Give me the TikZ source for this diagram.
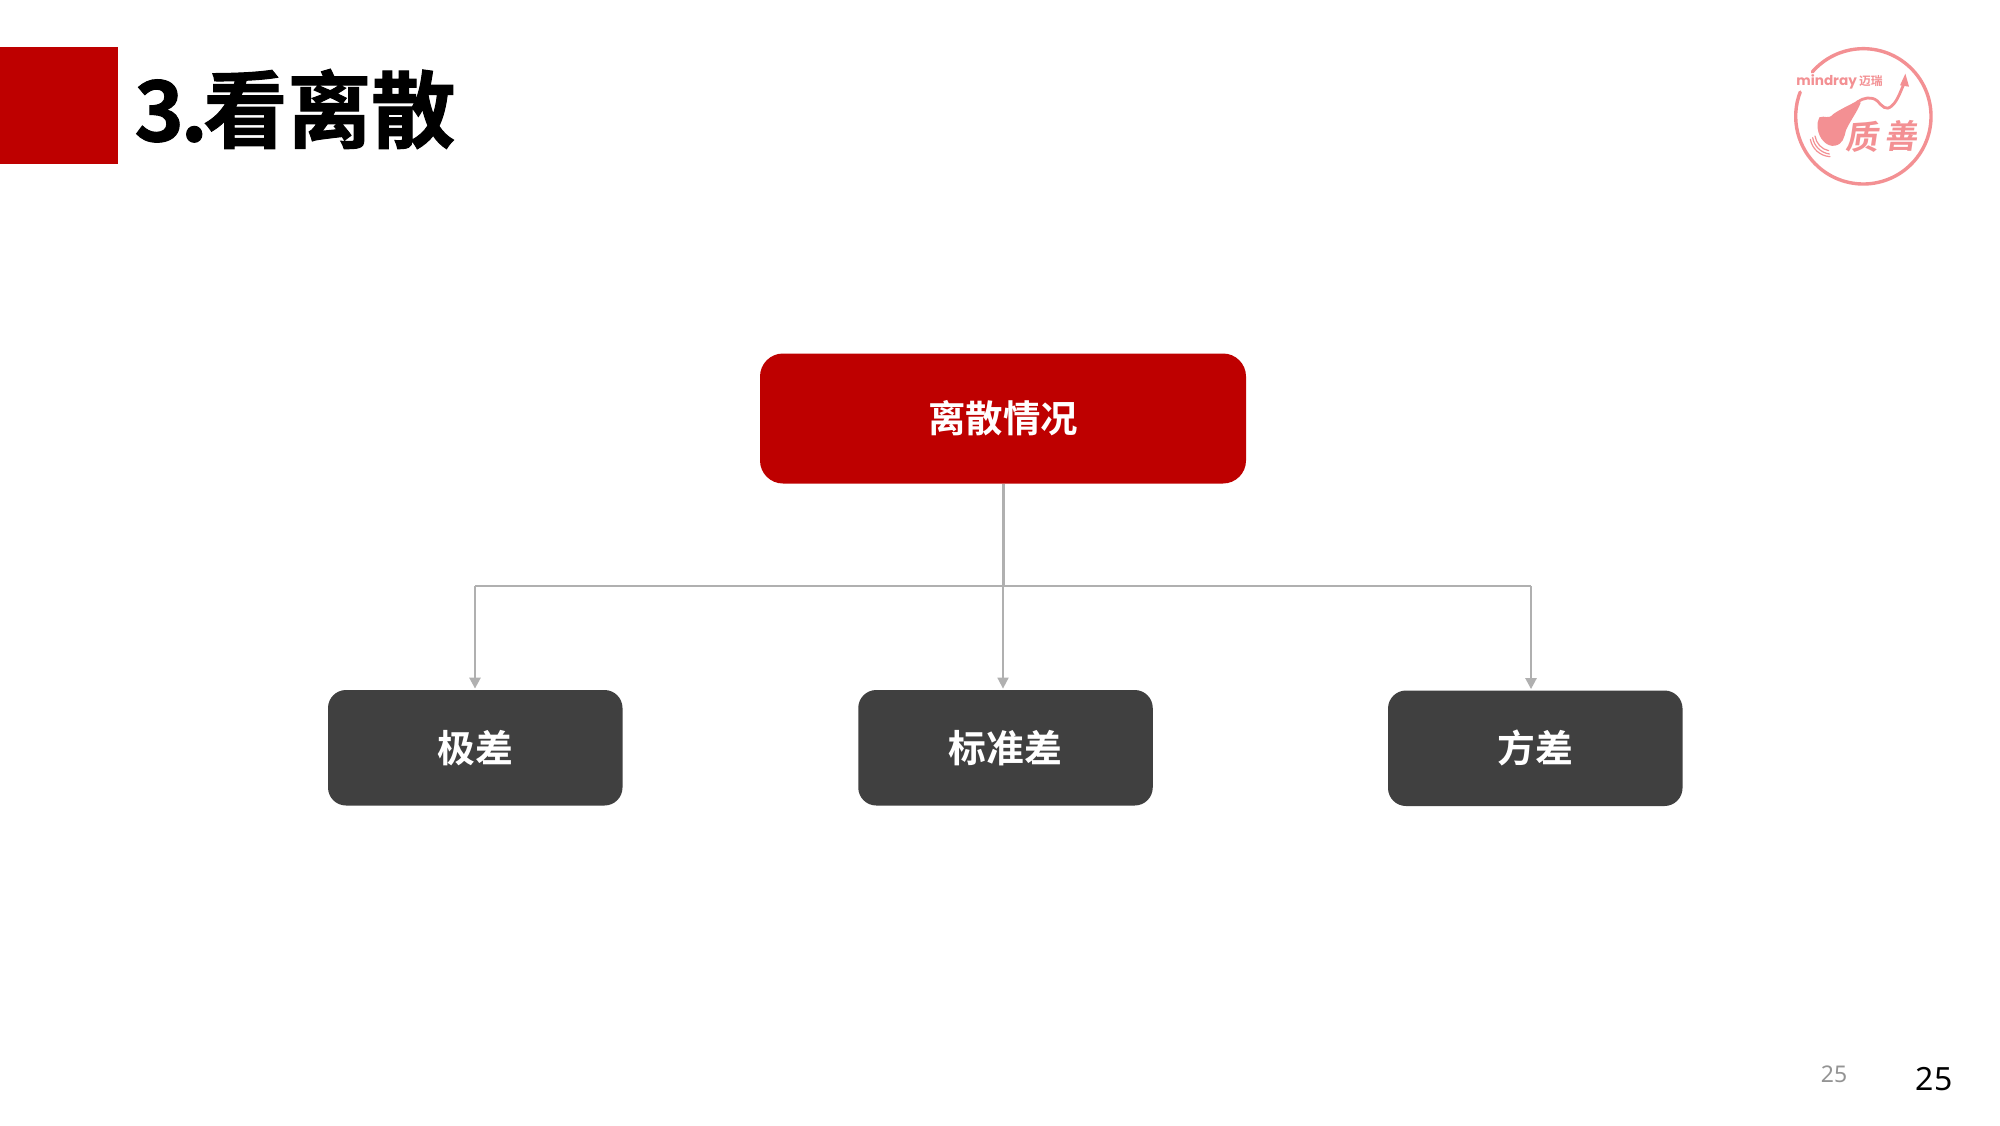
\documentclass[tikz,border=0pt]{standalone}
\usepackage{fontspec}
\usetikzlibrary{arrows.meta}
\newfontfamily\cjk[BoldFont=* Bold]{Noto Sans CJK SC}
\newfontfamily\cjkheavy[UprightFont=* Bold,FakeBold=1.2]{Noto Sans CJK SC}
\newfontfamily\cjkslant[UprightFont=* Bold,FakeSlant=0.15]{Noto Sans CJK SC}
\newfontfamily\logolat{Poppins}
\newfontfamily\pagefont{Noto Sans}
\definecolor{mainred}{HTML}{BE0000}
\definecolor{darkbox}{HTML}{404040}
\definecolor{linegrey}{HTML}{B0B0B0}
\definecolor{logopink}{HTML}{F39093}
\tikzset{
  topbox/.style={fill=mainred,rounded corners=11.5pt,minimum width=243pt,minimum height=65pt,inner sep=0pt,text=white,font=\cjk\bfseries\fontsize{18.7pt}{20pt}\selectfont},
  subbox/.style={fill=darkbox,rounded corners=9pt,minimum width=147.25pt,minimum height=57.75pt,inner sep=0pt,text=white,font=\cjk\bfseries\fontsize{18.9pt}{20pt}\selectfont},
  conn/.style={draw=linegrey,line width=1.25pt},
  connarrow/.style={conn,-{Triangle[length=5.5pt,width=5.5pt]}},
  logoline/.style={draw=logopink,line cap=round},
}
\begin{document}
\begin{tikzpicture}[x=0.5pt,y=-0.5pt]
\useasboundingbox (0,0) rectangle (2000,1125);
\fill[white] (0,0) rectangle (2000,1125);
% title block
\fill[mainred] (0,46.5) rectangle (118,164);
\node[anchor=west,inner sep=0pt,font=\cjkheavy\fontsize{42pt}{44pt}\selectfont] (title) at (134,109) {3\kern-1.7pt.\kern-2.3pt 看离散};
% boxes
\node[topbox] (top) at (1003,418.5) {\raisebox{-0.7pt}{离散情况}};
\node[subbox] (left) at (475.25,747.75) {\raisebox{-0.5pt}{极差}};
\node[subbox] (mid) at (1005.5,747.75) {\raisebox{-0.5pt}{标准差}};
\node[subbox] (right) at (1535.25,748.25) {\raisebox{-0.5pt}{方差}};
% connectors
\coordinate (bus) at (1003.5,586);
\coordinate (busL) at (475,586);
\coordinate (busM) at (1003,586);
\coordinate (busR) at (1531,586);
\draw[conn,line width=1.4pt] (bus |- top.south) -- (bus);
\draw[conn] (busL) -- (busR);
\draw[connarrow] (busL) -- ([yshift=0.5pt]busL |- left.north);
\draw[connarrow,line width=0.9pt] (busM) -- ([yshift=0.5pt]busM |- mid.north);
\draw[connarrow] (busR) -- ([yshift=0.5pt]busR |- right.north);
% page numbers
\node[inner sep=0pt,text=black!42,font=\pagefont\fontsize{11.5pt}{13pt}\selectfont] (pgA) at (1834,1074) {25};
\node[inner sep=0pt,text=black,font=\pagefont\fontsize{16pt}{18pt}\selectfont] (pgB) at (1934,1079) {25};
% logo
\begin{scope}[shift={(1760,30)},x=0.16667pt,y=-0.16667pt]
  \draw[logoline,line width=1.7pt] ([shift={(310,259)}]-139:203) arc[start angle=-139,end angle=201,radius=203];
  \node[inner sep=0pt,anchor=west,text=logopink,font=\logolat\bfseries\fontsize{6.8pt}{8pt}\selectfont] (mr) at (108,157) {mindray};
  \node[inner sep=0pt,anchor=west,text=logopink,font=\cjk\bfseries\fontsize{5.9pt}{7pt}\selectfont] (mrc) at (296,154) {迈瑞};
  % probe
  \fill[logopink] (178,262) .. controls (195,255) and (205,270) .. (220,252)
    .. controls (245,235) and (270,225) .. (292,212)
    -- (302,218) .. controls (292,245) and (272,270) .. (258,300)
    .. controls (252,325) and (248,342) .. (225,347)
    .. controls (200,352) and (176,325) .. (173,295)
    .. controls (172,280) and (173,270) .. (178,262) -- cycle;
  % trend line and arrow
  \draw[logoline,line width=1.4pt] (292,216) .. controls (310,203) and (335,198) .. (352,213)
    .. controls (368,230) and (378,243) .. (395,228)
    .. controls (412,213) and (420,188) .. (431,163);
  \fill[logopink] (436,131) -- (447,170) -- (420,166) -- cycle;
  % waves
  \draw[logoline,line width=0.6pt] (165,318) .. controls (168,340) and (185,358) .. (206,362);
  \draw[logoline,line width=0.6pt] (158,323) .. controls (162,348) and (182,368) .. (208,372);
  \draw[logoline,line width=0.6pt] (151,328) .. controls (156,356) and (180,378) .. (210,380);
  % calligraphy
  \node[inner sep=0pt,text=logopink,font=\cjkslant\fontsize{16.5pt}{17pt}\selectfont] (zhi) at (305,322) {质};
  \node[inner sep=0pt,text=logopink,font=\cjkslant\fontsize{16.5pt}{17pt}\selectfont] (shan) at (422,318) {善};
\end{scope}
\end{tikzpicture}
\end{document}
